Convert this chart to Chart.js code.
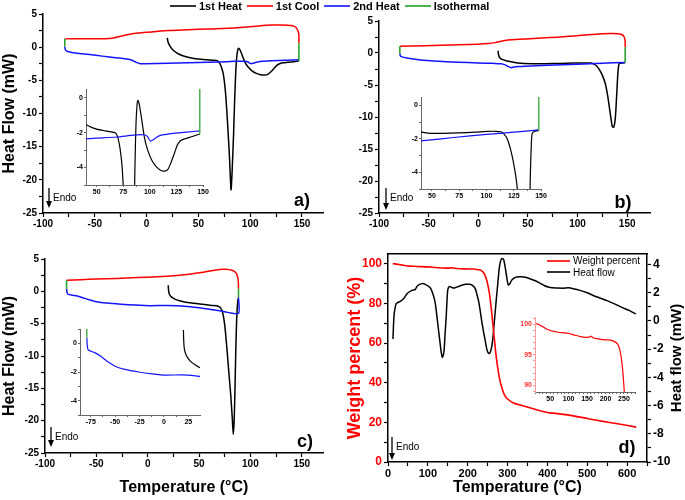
<!DOCTYPE html>
<html>
<head>
<meta charset="utf-8">
<script src="https://cdn.jsdelivr.net/npm/chart.js@4.4.1/dist/chart.umd.min.js"></script>
<style>
  body { margin: 0; background: #fff; }
  #wrap { position: relative; width: 685px; height: 500px; overflow: hidden; font-family: "Liberation Sans", Arial, sans-serif; }
  canvas { position: absolute; }
  .key { position: absolute; z-index: 5; display: flex; align-items: center; white-space: nowrap; }
  .key svg { flex: none; margin-right: 3px; }
  .key span { margin-right: 5px; }
  #legend { left: 170px; top: 0; height: 11px; line-height: 11px; font: bold 11px "Liberation Sans", Arial, sans-serif; }
  #dlegend { left: 547px; top: 255px; font: 10px "Liberation Sans", Arial, sans-serif; flex-direction: column; align-items: flex-start; }
  #dlegend div { display: flex; align-items: center; height: 11.6px; }
</style>
</head>
<body>
<div id="wrap">
  <canvas id="pa"></canvas><canvas id="pb"></canvas><canvas id="pc"></canvas><canvas id="pd"></canvas>
  <canvas id="ia"></canvas><canvas id="ib"></canvas><canvas id="ic"></canvas><canvas id="id"></canvas>
  <div id="legend" class="key">
    <svg width="26" height="4"><line x1="0" y1="2" x2="26" y2="2" stroke="#000000" stroke-width="1.6"/></svg><span>1st Heat</span>
    <svg width="26" height="4"><line x1="0" y1="2" x2="26" y2="2" stroke="#ff0000" stroke-width="1.6"/></svg><span>1st Cool</span>
    <svg width="26" height="4"><line x1="0" y1="2" x2="26" y2="2" stroke="#1414ff" stroke-width="1.6"/></svg><span>2nd Heat</span>
    <svg width="26" height="4"><line x1="0" y1="2" x2="26" y2="2" stroke="#1ea01e" stroke-width="1.6"/></svg><span>Isothermal</span>
  </div>
  <div id="dlegend" class="key">
    <div><svg width="23" height="4"><line x1="0" y1="2" x2="23" y2="2" stroke="#ff0000" stroke-width="1.6"/></svg>Weight percent</div>
    <div><svg width="23" height="4"><line x1="0" y1="2" x2="23" y2="2" stroke="#000000" stroke-width="1.6"/></svg>Heat flow</div>
  </div>
</div>
<script>
// panel a) : [temperature °C, heat flow mW]
const aHeat1 = [[20, 1.4], [20.5, 0.9], [22, 0.3], [25, -0.35], [29, -0.85], [35, -1.3], [42, -1.6], [50, -1.8],
  [58, -1.9], [65, -1.97], [68, -2.03], [70, -2.3], [72, -2.9], [74, -4.0], [76, -6.5], [78, -11], [80, -16.5],
  [81.5, -21.5], [82.5, -19], [84, -13], [85, -8], [86, -4], [87, -1.5], [88, -0.4], [88.8, -0.15], [90, -0.35],
  [92, -1.1], [95, -2.3], [98, -3.0], [102, -3.6], [106, -3.95], [110, -4.15], [114, -4.2], [117, -4.1],
  [120, -3.7], [123, -3.2], [126, -2.7], [129, -2.45], [133, -2.35], [140, -2.22], [147, -2.08]];
const aCool1 = [[147, 0.6], [147, 1.8], [146, 2.5], [144, 3.0], [140, 3.25], [130, 3.35], [120, 3.33], [105, 3.15],
  [85, 2.9], [60, 2.75], [40, 2.62], [21, 2.5], [5, 2.3], [-5, 2.18], [-10, 2.1], [-15, 1.98], [-20, 1.82],
  [-26, 1.6], [-31, 1.42], [-36, 1.32], [-45, 1.27], [-60, 1.26], [-79, 1.25]];
const aHeat2 = [[-79, 0.1], [-78.5, -0.35], [-77, -0.62], [-72, -0.8], [-65, -0.95], [-55, -1.12], [-43, -1.35],
  [-32, -1.55], [-22, -1.72], [-16, -1.85], [-13, -2.05], [-10, -2.3], [-7, -2.45], [-4, -2.5], [10, -2.48],
  [30, -2.4], [50, -2.32], [69, -2.25], [85, -2.14], [94, -2.12], [97.5, -2.2], [100.5, -2.48], [103, -2.42],
  [106, -2.28], [110, -2.16], [120, -2.06], [135, -1.97], [147, -1.9]];
const aIsoLow = [[-79, 1.25], [-79, 0.1]];
const aIsoHigh = [[147, -2.08], [147, 0.6]];

// panel b)
const bHeat1 = [[20, 0.35], [20.3, -0.2], [21.5, -0.7], [24, -1.0], [28, -1.2], [34, -1.4], [40, -1.58], [46, -1.66],
  [60, -1.67], [74, -1.65], [90, -1.6], [100, -1.56], [108, -1.55], [113, -1.58], [116, -1.7], [119, -2.0],
  [122, -2.6], [125, -3.5], [128, -4.8], [130.5, -6.8], [133, -9.5], [135, -11.5], [136.5, -11.6], [138, -10.3],
  [139.3, -7], [140.3, -4], [141.2, -2.2], [142, -1.67], [144, -1.56], [148, -1.5]];
const bCool1 = [[148, 0.9], [148, 1.8], [147, 2.5], [145, 2.85], [141, 3.0], [135, 3.05], [125, 3.02], [110, 2.85],
  [97, 2.65], [80, 2.48], [64, 2.33], [48, 2.2], [34, 2.07], [27, 1.97], [22, 1.8], [17, 1.62], [10, 1.48],
  [0, 1.38], [-20, 1.28], [-54, 1.14], [-79, 1.04]];
const bHeat2 = [[-79, -0.1], [-78.5, -0.45], [-77, -0.6], [-72, -0.78], [-60, -1.05], [-40, -1.3], [-20, -1.45],
  [0, -1.55], [15, -1.62], [23, -1.68], [27, -1.85], [30, -2.1], [33, -2.3], [36, -2.2], [40, -2.12], [47, -2.08],
  [70, -1.92], [100, -1.74], [125, -1.6], [148, -1.47]];
const bIsoLow = [[-79, 1.04], [-79, -0.1]];
const bIsoHigh = [[148, -1.5], [148, 0.9]];

// panel c)
const cHeat1 = [[20, 0.93], [20.3, 0.2], [21, -0.4], [23, -0.85], [27, -1.24], [32, -1.5], [37, -1.7], [45, -1.85],
  [53, -2.0], [62, -2.18], [68.5, -2.3], [71, -2.55], [73, -3.3], [75, -5.2], [77, -8.6], [79, -12.5], [81, -16.3],
  [82.5, -20], [83.3, -22.1], [84.2, -20], [85, -15], [85.8, -9], [86.5, -5], [87.2, -2.5], [88, -1.1]];
const cCool1 = [[88.4, 0.45], [88.3, 1.4], [87.5, 2.3], [85.5, 2.95], [82, 3.25], [76, 3.4], [70, 3.38], [62, 3.2],
  [52, 2.9], [40, 2.65], [25, 2.4], [10, 2.25], [-10, 2.12], [-30, 2.0], [-50, 1.9], [-65, 1.8], [-79, 1.72]];
const cHeat2 = [[-79, 0.4], [-78.5, -0.2], [-77.5, -0.47], [-71, -0.65], [-64, -0.94], [-57, -1.31], [-50, -1.6],
  [-40, -1.82], [-26, -2.0], [-12, -2.13], [2, -2.22], [19, -2.2], [36, -2.3], [50, -2.55], [70, -3.0],
  [88.4, -3.42], [88.4, -0.93]];
const cIsoLow = [[-79, 1.72], [-79, 0.4]];
const cIsoHigh = [[88.4, -0.93], [88.4, 0.45]];

// panel d) : weight percent (%) and heat flow (mW) against temperature
const dWeight = [[12, 100.1], [18, 100], [27, 99.7], [36, 99.4], [45, 99.1], [55, 98.9], [73, 98.7], [100, 98.5],
  [118, 98.2], [136, 97.95], [150, 97.85], [157, 97.95], [161, 98.05], [166, 97.8], [173, 97.7], [191, 97.5],
  [205, 97.45], [214, 97.4], [223, 97.2], [231, 96.9], [236, 96.4], [240, 95.5], [244, 94], [248, 91.5],
  [252, 88], [256, 83], [260, 76], [265, 66], [270, 56], [275, 48], [280, 42], [285, 38], [292, 34],
  [300, 31.8], [315, 29.8], [340, 28.3], [370, 26.5], [400, 25], [430, 24.3], [465, 23.3], [500, 22],
  [540, 20.5], [580, 19.2], [623, 17.6]];
const dHeat = [[12.5, -1.28], [13.5, -0.5], [15, 0.3], [17, 0.8], [21, 1.25], [31, 1.39], [39, 1.57], [47.6, 1.93],
  [60, 2.17], [68, 2.22], [74, 2.5], [85, 2.65], [93.5, 2.6], [106, 2.36], [114, 1.81], [119, 1.2], [123, 0.27],
  [127, -0.7], [131, -1.63], [134, -2.3], [136.5, -2.58], [139, -2.4], [141, -2.0], [143.5, -0.8], [146, 0.27],
  [148, 1.4], [150, 2.2], [154, 2.45], [160, 2.38], [164, 2.34], [170, 2.38], [177, 2.45], [194, 2.6], [205, 2.6],
  [212, 2.52], [219, 2.29], [223, 1.9], [227, 1.46], [231, 0.8], [235, 0.03], [240, -0.8], [244, -1.4], [248, -2.0],
  [251, -2.25], [255, -2.3], [258, -2.1], [261, -1.7], [264, -1.0], [267, 0.0], [270, 0.95], [273, 1.9],
  [276, 2.8], [279, 3.7], [282, 4.2], [286, 4.43], [290, 4.38], [293, 4.0], [296, 3.48], [299, 2.9], [302, 2.55],
  [306, 2.65], [310, 2.88], [317, 3.05], [323, 3.12], [335, 3.14], [345, 3.1], [356, 3.0], [370, 2.85],
  [381, 2.69], [392, 2.52], [402, 2.41], [412, 2.35], [423, 2.34], [440, 2.33], [453, 2.35], [465, 2.29],
  [482, 2.17], [500, 2.0], [515, 1.81], [530, 1.65], [548, 1.46], [570, 1.2], [590, 0.93], [605, 0.75], [622, 0.5]];

const BLACK = '#000000', RED = '#ff0000', BLUE = '#1414ff', GREEN = '#1ea01e';
const FONT = '"Liberation Sans", Arial, sans-serif';
Chart.defaults.font.family = FONT;
Chart.defaults.color = '#000';

function tickSet(step) {
  return s => {
    const out = [];
    for (let k = Math.ceil(s.min / step - 1e-9); k * step <= s.max + 1e-9; k++) out.push({ value: +(k * step).toFixed(4) });
    s.ticks = out;
  };
}

function ax(pos, min, max, step, every, size, o = {}) {
  const vertical = pos === 'left' || pos === 'right';
  const line = o.line ?? '#000', lw = o.lw ?? 1.5;
  return {
    type: 'linear', position: pos, min, max,
    afterBuildTicks: tickSet(step),
    afterFit: s => { if (vertical) s.width = size; else s.height = size; },
    border: { display: true, color: line, width: lw },
    grid: { drawOnChartArea: false, tickLength: o.tick ?? 4, tickColor: line, tickWidth: o.tw ?? 1.2 },
    ticks: {
      autoSkip: false, maxRotation: 0, padding: o.pad ?? 2, color: o.color ?? '#000',
      font: { size: o.font ?? 10, weight: 'bold' },
      callback: v => Math.abs(v / every - Math.round(v / every)) < 1e-6 ? String(v) : ''
    },
    title: o.title
      ? { display: true, text: o.title, color: o.titleColor ?? '#000', font: { size: o.titleSize ?? 16, weight: 'bold' }, padding: o.titlePad ?? 0 }
      : { display: false }
  };
}

function ser(data, color, w = 1.5, yAxisID = 'y') {
  return {
    data: data.map(([x, y]) => ({ x, y })), borderColor: color, backgroundColor: color,
    borderWidth: w, showLine: true, pointRadius: 0, tension: 0.2, yAxisID
  };
}

// "Endo" arrow, panel letter and the right-hand title of panel d
const marks = {
  id: 'marks',
  afterDraw(chart, args, o) {
    const { ctx, chartArea: a } = chart;
    ctx.save();
    ctx.fillStyle = ctx.strokeStyle = '#000';
    const x = a.left + o.endo[0], top = a.bottom - o.endo[1], tip = a.bottom - o.endo[2];
    ctx.lineWidth = 1.3;
    ctx.beginPath(); ctx.moveTo(x, top); ctx.lineTo(x, tip - 4); ctx.stroke();
    ctx.beginPath(); ctx.moveTo(x - 3, tip - 7); ctx.lineTo(x + 3, tip - 7); ctx.lineTo(x, tip); ctx.closePath(); ctx.fill();
    ctx.font = '10px ' + FONT;
    ctx.textBaseline = 'middle';
    ctx.fillText('Endo', x + 4, top + 10);
    ctx.font = 'bold 18px ' + FONT;
    ctx.textAlign = 'center';
    ctx.fillText(o.tag, a.right - o.at[0], a.bottom - o.at[1]);
    if (o.rightTitle) {
      ctx.font = 'bold 15px ' + FONT;
      ctx.translate(chart.width - 8.5, (a.top + a.bottom) / 2);
      ctx.rotate(-Math.PI / 2);
      ctx.fillText(o.rightTitle, 0, 0);
    }
    ctx.restore();
  }
};

function plot(id, x, y, w, h, pad, datasets, scales, mk) {
  const c = document.getElementById(id);
  c.width = w; c.height = h;
  Object.assign(c.style, { left: x + 'px', top: y + 'px', width: w + 'px', height: h + 'px' });
  return new Chart(c, {
    type: 'scatter',
    data: { datasets },
    options: {
      responsive: false, animation: false, devicePixelRatio: 1,
      layout: { padding: pad },
      plugins: { legend: { display: false }, tooltip: { enabled: false }, marks: mk || {} },
      scales
    },
    plugins: mk ? [marks] : []
  });
}

const dsc = (heat1, cool1, heat2, isoLow, isoHigh, w) => [
  ser(isoLow, GREEN, w), ser(isoHigh, GREEN, w), ser(heat2, BLUE, w), ser(heat1, BLACK, w), ser(cool1, RED, w)
];
const insetOpt = { font: 7, tick: 2, pad: 1, lw: 1, tw: 1, line: '#666' };

// main panels
plot('pa', 0, 0, 340, 230, { left: 0, top: 14, right: 17, bottom: 0 },
  dsc(aHeat1, aCool1, aHeat2, aIsoLow, aIsoHigh, 1.5),
  { x: ax('bottom', -100, 170.3, 25, 50, 17, { pad: 1 }),
    y: ax('left', -25, 5, 2.5, 5, 43, { title: 'Heat Flow (mW)' }) },
  { tag: 'a)', endo: [6, 25, 5], at: [21, 12] });

plot('pb', 336, 0, 349, 230, { left: 0, top: 21, right: 35, bottom: 0 },
  dsc(bHeat1, bCool1, bHeat2, bIsoLow, bIsoHigh, 1.5),
  { x: ax('bottom', -100, 173, 25, 50, 17, { pad: 1 }),
    y: ax('left', -25, 5, 2.5, 5, 43) },
  { tag: 'b)', endo: [7, 25, 3], at: [27, 10] });

plot('pc', 0, 230, 340, 270, { left: 0, top: 29, right: 17, bottom: 0 },
  dsc(cHeat1, cCool1, cHeat2, cIsoLow, cIsoHigh, 1.5),
  { x: ax('bottom', -100, 170.7, 25, 50, 47, { pad: 1, title: 'Temperature (°C)', titlePad: 3 }),
    y: ax('left', -25, 5, 2.5, 5, 45, { title: 'Heat Flow (mW)' }) },
  { tag: 'c)', endo: [6, 26, 6], at: [18, 11] });

plot('pd', 340, 230, 345, 270, { left: 0, top: 24, right: 0, bottom: 0 },
  [ser(dWeight, RED, 1.6, 'y'), ser(dHeat, BLACK, 1.5, 'y1')],
  { x: ax('bottom', 0, 650, 50, 100, 38, { font: 11, pad: 1, title: 'Temperature (°C)', titlePad: 3 }),
    x2: { type: 'linear', position: 'top', min: 0, max: 650, afterFit: s => { s.height = 0; },
      ticks: { display: false }, grid: { display: false, drawTicks: false }, border: { display: true, color: '#000', width: 1.5 } },
    y: ax('left', 0, 105, 10, 20, 48, { font: 12, color: RED, title: 'Weight percent (%)', titleColor: RED, titleSize: 18, titlePad: 4 }),
    y1: ax('right', -10, 4.75, 1, 2, 38, { font: 12 }) },
  { tag: 'd)', endo: [4, 25, 2], at: [20, 14], rightTitle: 'Heat flow (mW)' });

// insets
plot('ia', 64, 80, 150, 118, { left: 0, top: 9, right: 11, bottom: 0 },
  dsc(aHeat1, aCool1, aHeat2, aIsoLow, aIsoHigh, 1.2),
  { x: ax('bottom', 40, 150, 12.5, 25, 13, insetOpt), y: ax('left', -5, 0.5, 1, 2, 22, insetOpt) });

plot('ib', 399, 88, 153, 114, { left: 0, top: 9, right: 11, bottom: 0 },
  dsc(bHeat1, bCool1, bHeat2, bIsoLow, bIsoHigh, 1.2),
  { x: ax('bottom', 40, 150, 12.5, 25, 13, insetOpt), y: ax('left', -5, 0.5, 1, 2, 22, insetOpt) });

plot('ic', 58, 320, 153, 108, { left: 0, top: 9, right: 11, bottom: 0 },
  dsc(cHeat1, cCool1, cHeat2, cIsoLow, cIsoHigh, 1.2),
  { x: ax('bottom', -86, 37, 12.5, 25, 13, insetOpt), y: ax('left', -5, 1, 1, 2, 22, insetOpt) });

plot('id', 510, 308, 136, 97, { left: 0, top: 9, right: 11, bottom: 0 },
  [ser(dWeight, RED, 1.2)],
  { x: ax('bottom', 9, 280, 10, 50, 13, insetOpt),
    y: ax('left', 88.9, 101.2, 1, 5, 25, { ...insetOpt, line: '#ff9a9a', color: '#ff3030' }) });
</script>
</body>
</html>
